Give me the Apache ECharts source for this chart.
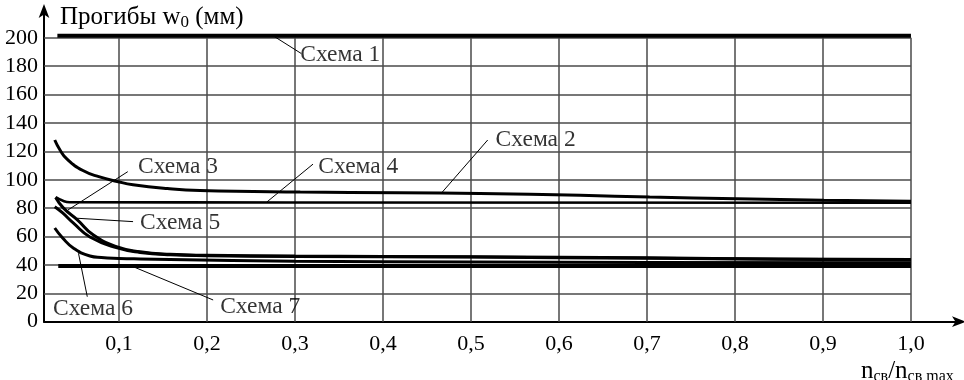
<!DOCTYPE html>
<html>
<head>
<meta charset="utf-8">
<script src="https://cdn.jsdelivr.net/npm/echarts@6/dist/echarts.min.js"></script>
<style>
  html, body { margin: 0; padding: 0; background: #fff; }
  #chart { width: 964px; height: 380px; }
</style>
</head>
<body>
<div id="chart"></div>
<script>
// Deflection w0 (mm) versus relative number of ties n_св / n_св max, for seven schemes
const scheme1 = [[0.030, 201.5], [1.0, 201.5]];
const scheme2 = [[0.027, 128], [0.033, 121], [0.041, 114.5], [0.059, 106.5], [0.078, 102],
                 [0.098, 98.8], [0.116, 96.5], [0.155, 93.8], [0.192, 92.4], [0.306, 91.3],
                 [0.419, 90.9], [0.51, 90.3], [0.624, 89], [0.703, 87.8], [0.802, 86.7],
                 [0.901, 85.6], [1.0, 84.8]];
const scheme3 = [[0.028, 87.5], [0.037, 80], [0.053, 71.6], [0.071, 61], [0.098, 52.7],
                 [0.124, 49.3], [0.158, 47.5], [0.2, 46.8], [0.3, 46.2], [0.5, 45.8],
                 [0.7, 45], [0.85, 44.2], [1.0, 43.8]];
const scheme4 = [[0.028, 87.7], [0.037, 85], [0.044, 84.2], [0.3, 84], [1.0, 83.8]];
const scheme5 = [[0.027, 81], [0.036, 76.6], [0.048, 69.6], [0.067, 59.7], [0.098, 52],
                 [0.124, 48.8], [0.158, 47.1], [0.2, 46.5], [0.3, 46], [0.5, 45.5],
                 [0.7, 44.7], [0.85, 44], [1.0, 43.4]];
const scheme6 = [[0.027, 66], [0.036, 59], [0.048, 52], [0.067, 46.3], [0.08, 45.2],
                 [0.1, 44.6], [0.124, 44.2], [0.158, 43.8], [0.3, 42.6], [0.5, 42],
                 [0.7, 41.7], [1.0, 41.5]];
const scheme7 = [[0.031, 39.3], [1.0, 39.3]];

const xTicks = [0.1, 0.2, 0.3, 0.4, 0.5, 0.6, 0.7, 0.8, 0.9, 1.0];
const yTicks = [0, 20, 40, 60, 80, 100, 120, 140, 160, 180, 200];

// Scheme captions: text, anchor (left edge, middle) and leader line in data units
const captionTexts = ['Схема 1', 'Схема 2', 'Схема 3', 'Схема 4', 'Схема 5', 'Схема 6', 'Схема 7'];
const captionAnchors = [[0.306, 188], [0.528, 128], [0.1216, 109.3], [0.3265, 109.3],
                        [0.124, 69.4], [0.025, 9], [0.215, 10.4]];
const leaderLines = [
  [[0.275, 201.5], [0.307, 189]],
  [[0.519, 128], [0.467, 91]],
  [[0.110, 105.7], [0.042, 78.7]],
  [[0.3205, 111], [0.268, 84.3]],
  [[0.116, 70.5], [0.052, 72.9]],
  [[0.064, 17.6], [0.054, 48.2]],
  [[0.207, 15.3], [0.116, 38.8]]
];

const FONT = "'Liberation Serif', 'Times New Roman', serif";
const xMin = 0.0148, xMax = 1.058, yMax = 221;

const gridSegments = [];
xTicks.forEach(v => gridSegments.push([{ coord: [v, 0] }, { coord: [v, 200] }]));
yTicks.filter(v => v > 0).forEach(v => gridSegments.push([{ coord: [xMin, v] }, { coord: [1.0, v] }]));

function curve(name, data, width) {
  return {
    name: name, type: 'line', data: data, showSymbol: false, symbol: 'none',
    smooth: 0.5, z: 5,
    lineStyle: { color: '#000', width: width }
  };
}

const normal = { fontFamily: FONT, fontWeight: 'normal', color: '#000', lineHeight: 28 };

const chart = echarts.init(document.getElementById('chart'), null, { renderer: 'canvas' });
chart.setOption({
  animation: false,
  backgroundColor: '#fff',
  title: [
    {
      text: '{a|Прогибы w}{s|0}{a| (мм)}',
      left: 60, top: 3, padding: 0,
      textStyle: {
        fontWeight: 'normal',
        rich: {
          a: Object.assign({ fontSize: 25 }, normal),
          s: Object.assign({ fontSize: 17, verticalAlign: 'bottom', padding: [8, 0, 0, 0] }, normal)
        }
      }
    },
    {
      text: '{a|n}{s|св}{a|/n}{s|св max}',
      left: 861, top: 357, padding: 0,
      textStyle: {
        fontWeight: 'normal',
        rich: {
          a: Object.assign({ fontSize: 25 }, normal),
          s: Object.assign({ fontSize: 16, verticalAlign: 'bottom', padding: [8, 0, 0, 0] }, normal)
        }
      }
    }
  ],
  grid: { left: 44, right: 2, top: 8, bottom: 58.3, containLabel: false },
  xAxis: {
    type: 'value', min: xMin, max: xMax,
    axisLine: { show: true, symbol: ['none', 'arrow'], symbolSize: [8, 14], symbolOffset: [0, 4],
                lineStyle: { color: '#000', width: 2 } },
    axisTick: { show: false },
    splitLine: { show: false },
    axisLabel: {
      show: true, customValues: xTicks, margin: 12,
      fontFamily: FONT, fontSize: 22, color: '#000',
      formatter: v => v.toFixed(1).replace('.', ',')
    }
  },
  yAxis: {
    type: 'value', min: 0, max: yMax,
    axisLine: { show: true, symbol: ['none', 'arrow'], symbolSize: [8, 14], symbolOffset: [0, 4],
                lineStyle: { color: '#000', width: 2 } },
    axisTick: { show: false },
    splitLine: { show: false },
    axisLabel: {
      show: true, customValues: yTicks, margin: 6,
      fontFamily: FONT, fontSize: 22, color: '#000'
    }
  },
  series: [
    {
      name: 'grid', type: 'line', data: [], z: 1, silent: true,
      markLine: {
        silent: true, symbol: ['none', 'none'], animation: false,
        label: { show: false },
        lineStyle: { color: '#4a4a4a', width: 1.5, type: 'solid' },
        emphasis: { disabled: true },
        data: gridSegments
      }
    },
    curve('Схема 1', scheme1, 4),
    curve('Схема 2', scheme2, 3),
    curve('Схема 3', scheme3, 3),
    curve('Схема 4', scheme4, 2.6),
    curve('Схема 5', scheme5, 3),
    curve('Схема 6', scheme6, 3),
    curve('Схема 7', scheme7, 4),
    {
      name: 'captions', type: 'scatter', symbolSize: 0, z: 6, silent: true,
      data: captionAnchors.map((p, i) => ({ value: p, name: captionTexts[i] })),
      label: {
        show: true, position: 'right', distance: 0,
        formatter: p => p.name,
        fontFamily: FONT, fontSize: 23.5, color: '#000'
      },
      markLine: {
        silent: true, symbol: ['none', 'none'], animation: false,
        label: { show: false },
        lineStyle: { color: '#000', width: 1, type: 'solid' },
        emphasis: { disabled: true },
        data: leaderLines.map(seg => [{ coord: seg[0] }, { coord: seg[1] }])
      }
    }
  ]
});
</script>
</body>
</html>
